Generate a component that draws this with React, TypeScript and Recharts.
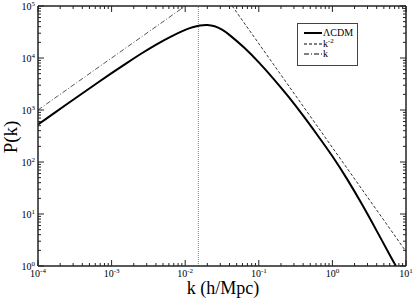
import React from 'react'
import { LineChart, Line, XAxis, YAxis, ReferenceLine } from 'recharts'

// decade tick labels
const xDecades = [1e-4, 1e-3, 1e-2, 1e-1, 1, 10]
const yDecades = [1, 10, 100, 1e3, 1e4, 1e5]

// LCDM power spectrum
const kValues = [
  0.0001, 0.0001585, 0.0002512, 0.0003981, 0.000631, 0.001, 0.001585, 0.002512, 0.003981, 0.00631,
  0.01, 0.01259, 0.01585, 0.01995, 0.02512, 0.03162, 0.03981, 0.0631, 0.1, 0.1585,
  0.2512, 0.3981, 0.631, 1, 1.585, 2.512, 3.981, 6.31, 7.31,
]
const pValues = [
  525, 832, 1318, 2080, 3266, 5105, 7907, 12080, 17950, 25590,
  34670, 39080, 42170, 43150, 40740, 35080, 27860, 15850, 8222, 3981,
  1820, 785, 323.6, 128.8, 46.8, 15.5, 4.79, 1.445, 1,
]

// power-law guides
const steepK = [0.0435, 10]
const steepP = [1e5, 1.9]
const linK = [0.0001, 0.01]
const linP = [1e3, 1e5]

const peakK = 0.0151

const lcdm = kValues.map((k, i) => ({ k, p: pValues[i] }))
const steep = steepK.map((k, i) => ({ k, p: steepP[i] }))
const lin = linK.map((k, i) => ({ k, p: linP[i] }))

const minors = (decades: number[]) => {
  const out: number[] = []
  decades.forEach((d, i) => {
    out.push(d)
    if (i < decades.length - 1) for (let m = 2; m <= 9; m++) out.push(d * m)
  })
  return out
}
const xTicks = minors(xDecades)
const yTicks = minors(yDecades)

const FONT = '"Liberation Serif", "DejaVu Serif", serif'
const AXIS = '#222'

const isMajor = (v: number) => Math.abs(Math.log10(v) - Math.round(Math.log10(v))) < 1e-6
const expOf = (v: number) => String(Math.round(Math.log10(v)))

function makeTick(side: 'bottom' | 'top' | 'left' | 'right') {
  return (props: any) => {
    const { x, y, payload } = props
    const major = isMajor(payload.value)
    const len = major ? 6 : 3
    let line
    if (side === 'bottom') line = <line x1={x} y1={y} x2={x} y2={y - len} stroke={AXIS} />
    else if (side === 'top') line = <line x1={x} y1={y} x2={x} y2={y + len} stroke={AXIS} />
    else if (side === 'left') line = <line x1={x} y1={y} x2={x + len} y2={y} stroke={AXIS} />
    else line = <line x1={x} y1={y} x2={x - len} y2={y} stroke={AXIS} />
    return (
      <g>
        {line}
        {major && side === 'bottom' && (
          <text x={x} y={y + 11} textAnchor="middle" fontSize={10} fontFamily={FONT} fill="#000">
            10<tspan dy={-4} fontSize={7}>{expOf(payload.value)}</tspan>
          </text>
        )}
        {major && side === 'left' && (
          <text x={x - 3} y={y + 4} textAnchor="end" fontSize={10} fontFamily={FONT} fill="#000">
            10<tspan dy={-4} fontSize={7}>{expOf(payload.value)}</tspan>
          </text>
        )}
      </g>
    )
  }
}

function LegendBox() {
  const row = (top: number, dash: string | undefined, w: number, label: React.ReactNode) => (
    <div style={{ position: 'absolute', left: 0, top: top - 4, height: 8, width: 58 }}>
      <svg width={22} height={8} style={{ position: 'absolute', left: 4, top: 0 }}>
        <line x1={2} y1={4} x2={20} y2={4} stroke="#000" strokeWidth={w} strokeDasharray={dash} />
      </svg>
      <span style={{ position: 'absolute', left: 25, top: 0, fontSize: 10, lineHeight: '8px', fontFamily: FONT, whiteSpace: 'nowrap' }}>
        {label}
      </span>
    </div>
  )
  return (
    <div style={{ position: 'absolute', left: 297, top: 23, width: 59, height: 41, border: '1px solid #444', background: '#fff' }}>
      {row(9, undefined, 2, 'ΛCDM')}
      {row(19.5, '3 2', 1, <>k<span style={{ fontSize: 7, position: 'relative', top: -4 }}>-2</span></>)}
      {row(29.5, '5 2 1 2', 1, 'k')}
    </div>
  )
}

export default function App() {
  return (
    <div style={{ position: 'absolute', left: 0, top: 0, width: 415, height: 302, background: '#fff' }}>
      <LineChart width={415} height={302} margin={{ top: 5, right: 8, bottom: 35, left: 37 }}>
        <XAxis
          xAxisId="b" dataKey="k" type="number" scale="log" domain={[1e-4, 10]} ticks={xTicks}
          interval={0} height={1} tickSize={0} tickMargin={0} tickLine={false}
          axisLine={{ stroke: AXIS, strokeWidth: 1.5 }} tick={makeTick('bottom')} allowDataOverflow
        />
        <XAxis
          xAxisId="t" dataKey="k" type="number" scale="log" domain={[1e-4, 10]} ticks={xTicks}
          orientation="top" interval={0} height={1} tickSize={0} tickMargin={0} tickLine={false}
          axisLine={{ stroke: AXIS, strokeWidth: 1.5 }} tick={makeTick('top')} allowDataOverflow
        />
        <YAxis
          yAxisId="l" type="number" scale="log" domain={[1, 1e5]} ticks={yTicks}
          interval={0} width={1} tickSize={0} tickMargin={0} tickLine={false}
          axisLine={{ stroke: AXIS, strokeWidth: 1.5 }} tick={makeTick('left')} allowDataOverflow
        />
        <YAxis
          yAxisId="r" type="number" scale="log" domain={[1, 1e5]} ticks={yTicks} orientation="right"
          interval={0} width={1} tickSize={0} tickMargin={0} tickLine={false}
          axisLine={{ stroke: AXIS, strokeWidth: 1.5 }} tick={makeTick('right')} allowDataOverflow
        />
        <ReferenceLine xAxisId="b" yAxisId="l" x={peakK} stroke="#888" strokeDasharray="1 1" />
        <Line xAxisId="b" yAxisId="l" data={lin} dataKey="p" type="linear" stroke="#555" strokeWidth={1}
          strokeDasharray="5 2 1 2" dot={false} isAnimationActive={false} />
        <Line xAxisId="b" yAxisId="l" data={steep} dataKey="p" type="linear" stroke="#333" strokeWidth={1}
          strokeDasharray="3 2" dot={false} isAnimationActive={false} />
        <Line xAxisId="b" yAxisId="l" data={lcdm} dataKey="p" type="natural" stroke="#000" strokeWidth={2}
          dot={false} isAnimationActive={false} />
      </LineChart>
      <LegendBox />
      <div style={{ position: 'absolute', left: 223, top: 279, transform: 'translateX(-50%)', fontSize: 18, lineHeight: '18px', fontFamily: FONT, whiteSpace: 'nowrap' }}>
        k (h/Mpc)
      </div>
      <div style={{ position: 'absolute', left: 10, top: 137, transform: 'translate(-50%, -50%) rotate(-90deg)', fontSize: 19, lineHeight: '19px', fontFamily: FONT, whiteSpace: 'nowrap' }}>
        P(k)
      </div>
    </div>
  )
}
